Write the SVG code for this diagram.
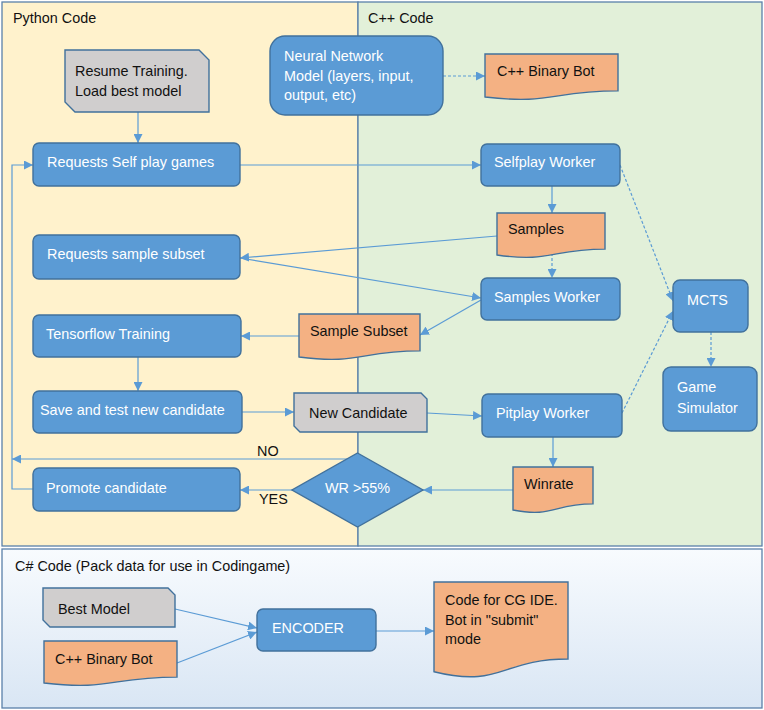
<svg xmlns="http://www.w3.org/2000/svg" width="764" height="710" viewBox="0 0 764 710">
<defs>
<linearGradient id="bg3" x1="0" y1="0" x2="0" y2="1">
<stop offset="0" stop-color="#F8FBFE"/>
<stop offset="1" stop-color="#D9E6F4"/>
</linearGradient>
<marker id="ah" viewBox="0 0 10 10" refX="10" refY="5" markerWidth="9" markerHeight="9" markerUnits="userSpaceOnUse" orient="auto">
<path d="M0,0 L10,5 L0,10 z" fill="#5B9BD5"/>
</marker>
<style>
.t{font-family:"Liberation Sans",Arial,sans-serif;font-size:14.4px;}
.w{fill:#FFFFFF;}
.k{fill:#111111;}
.blue{fill:#5B9BD5;stroke:#41719C;stroke-width:1.4;}
.org{fill:#F4B183;stroke:#41719C;stroke-width:1.4;}
.gry{fill:#D0CECE;stroke:#41719C;stroke-width:1.4;}
.c{fill:none;stroke:#5B9BD5;stroke-width:1.2;marker-end:url(#ah);}
.cn{fill:none;stroke:#5B9BD5;stroke-width:1.2;}
.d{stroke-dasharray:3,2;}
.panel{stroke:#5A80AA;stroke-width:1.3;}
</style>
</defs>

<g id="panels">
<rect x="2" y="2" width="356" height="544" fill="#FFF2CC" class="panel"/>
<rect x="358" y="2" width="404" height="544" fill="#E2F0D9" class="panel"/>
<rect x="2" y="549" width="760" height="159" fill="url(#bg3)" class="panel"/>
<text class="t k" x="13" y="23">Python Code</text>
<text class="t k" x="368" y="23">C++ Code</text>
<text class="t k" x="15" y="571">C# Code (Pack data for use in Codingame)</text>
</g>

<g id="connectors">
<path class="c" d="M138,112 V143"/>
<path class="c d" d="M443,76 H485"/>
<path class="c" d="M240,165 H481"/>
<path class="c" d="M552,186 V213"/>
<path class="c" d="M497,236 L240,258"/>
<path class="c" d="M240,258 L481,298"/>
<path class="c d" d="M552,253 V278"/>
<path class="c" d="M481,300 L420,335"/>
<path class="c" d="M299,336 H241"/>
<path class="c" d="M138,357 V391"/>
<path class="c" d="M242,412 H294"/>
<path class="c" d="M427,413 L482,416"/>
<path class="c d" d="M620,165 L673,301"/>
<path class="c d" d="M622,413 L673,311"/>
<path class="c d" d="M711,332 V367"/>
<path class="c" d="M553,437 V467"/>
<path class="c" d="M513,490 H423"/>
<path class="c" d="M292,490 H240"/>
<path class="c" d="M347,459 H12"/>
<path class="c" d="M33,489 H12 V165 H33"/>
<path class="c" d="M175,609 L257,628"/>
<path class="c" d="M177,663 L257,632"/>
<path class="c" d="M376,631 H434"/>
<text class="t k" x="257" y="456">NO</text>
<text class="t k" x="259" y="504">YES</text>
</g>

<g id="resume">
<path class="gry" d="M65,50 H199 L209,60 V112 H75 L65,102 Z"/>
<text class="t k" x="75" y="76">Resume Training.</text>
<text class="t k" x="75" y="96">Load best model</text>
</g>
<g id="nn">
<rect class="blue" x="270" y="36" width="173" height="79" rx="15"/>
<text class="t w" x="284" y="61">Neural Network</text>
<text class="t w" x="284" y="81">Model (layers, input,</text>
<text class="t w" x="284" y="100">output, etc)</text>
</g>
<g id="binbot">
<path class="org" d="M485,54 H618 V90.9 C551.5,90.9 551.5,104.9 485,97 Z"/>
<text class="t k" x="497" y="76">C++ Binary Bot</text>
</g>
<g id="reqself">
<rect class="blue" x="33" y="143" width="207" height="43" rx="6"/>
<text class="t w" x="47" y="167">Requests Self play games</text>
</g>
<g id="selfplay">
<rect class="blue" x="481" y="144" width="139" height="42" rx="6"/>
<text class="t w" x="494" y="167">Selfplay Worker</text>
</g>
<g id="samples">
<path class="org" d="M497,213 H605 V249.1 C551,249.1 551,262.8 497,255 Z"/>
<text class="t k" x="508" y="234">Samples</text>
</g>
<g id="reqsub">
<rect class="blue" x="33" y="235" width="207" height="44" rx="6"/>
<text class="t w" x="47" y="259">Requests sample subset</text>
</g>
<g id="sworker">
<rect class="blue" x="481" y="278" width="139" height="42" rx="6"/>
<text class="t w" x="494" y="302">Samples Worker</text>
</g>
<g id="subset">
<path class="org" d="M299,314 H420 V350.9 C359.5,350.9 359.5,364.9 299,357 Z"/>
<text class="t k" x="310" y="336">Sample Subset</text>
</g>
<g id="tf">
<rect class="blue" x="33" y="315" width="208" height="42" rx="6"/>
<text class="t w" x="46" y="339">Tensorflow Training</text>
</g>
<g id="mcts">
<rect class="blue" x="673" y="280" width="75" height="52" rx="7"/>
<text class="t w" x="687" y="305">MCTS</text>
</g>
<g id="gamesim">
<rect class="blue" x="663" y="367" width="94" height="64" rx="8"/>
<text class="t w" x="677" y="392">Game</text>
<text class="t w" x="677" y="413">Simulator</text>
</g>
<g id="save">
<rect class="blue" x="33" y="391" width="209" height="42" rx="6"/>
<text class="t w" x="40" y="415">Save and test new candidate</text>
</g>
<g id="newcand">
<path class="gry" d="M294,393 H421 L427,399 V432 H300 L294,426 Z"/>
<text class="t k" x="309" y="418">New Candidate</text>
</g>
<g id="pitplay">
<rect class="blue" x="482" y="394" width="140" height="43" rx="6"/>
<text class="t w" x="496" y="418">Pitplay Worker</text>
</g>
<g id="winrate">
<path class="org" d="M513,467 H593 V503.9 C553,503.9 553,517.9 513,510 Z"/>
<text class="t k" x="524" y="489">Winrate</text>
</g>
<g id="decision">
<polygon class="blue" points="357.5,453 423,490 357.5,527 292,490"/>
<text class="t w" x="357.5" y="493" text-anchor="middle">WR &gt;55%</text>
</g>
<g id="promote">
<rect class="blue" x="33" y="468" width="207" height="43" rx="6"/>
<text class="t w" x="46" y="493">Promote candidate</text>
</g>
<g id="bestmodel">
<path class="gry" d="M43,588 H168 L175,595 V627 H50 L43,620 Z"/>
<text class="t k" x="58" y="614">Best Model</text>
</g>
<g id="binbot2">
<path class="org" d="M44,641 H177 V677.1 C110.5,677.1 110.5,690.8 44,683 Z"/>
<text class="t k" x="55" y="664">C++ Binary Bot</text>
</g>
<g id="encoder">
<rect class="blue" x="257" y="609" width="119" height="42" rx="6"/>
<text class="t w" x="272" y="633">ENCODER</text>
</g>
<g id="cgcode">
<path class="org" d="M434,582 H568 V659 C501,659 501,688.3 434,671.7 Z"/>
<text class="t k" x="445" y="605">Code for CG IDE.</text>
<text class="t k" x="445" y="625">Bot in "submit"</text>
<text class="t k" x="445" y="644">mode</text>
</g>
</svg>
